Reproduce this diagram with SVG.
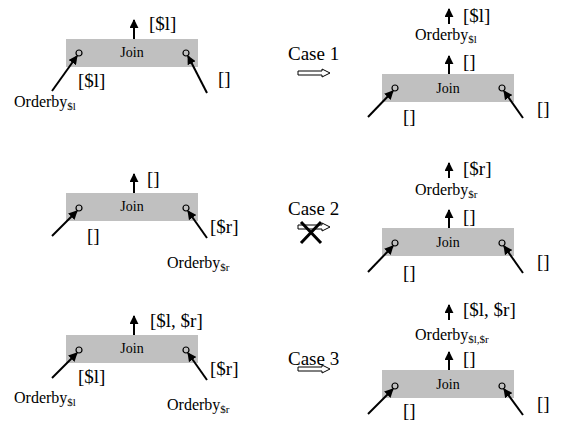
<svg xmlns="http://www.w3.org/2000/svg" width="561" height="423" viewBox="0 0 561 423">
<defs>
<style>
text{font-family:'Liberation Serif','Times New Roman',serif;fill:#000}
.lab{font-size:19px}
.case{font-size:19px}
.ob{font-size:16px}
.sub{font-size:11px}
.join{font-size:14px;text-anchor:middle}
.xmark{stroke:#000;stroke-width:3;fill:none}
</style>
<marker id="ah" viewBox="0 0 10 10" refX="9" refY="5" markerWidth="4.5" markerHeight="4.5" orient="auto" markerUnits="strokeWidth">
<path d="M0,0 L10,5 L0,10 Z" fill="#000"/>
</marker>
<rect id="box" width="132" height="28" fill="#c0c0c0"/>
<circle id="port" r="3" fill="none" stroke="#000" stroke-width="1.2"/>
<path id="hollow" d="M0,-2 L24,-2 L24,-4 L32,0 L24,4 L24,2 L0,2 Z" fill="#fff" stroke="#000" stroke-width="1"/>
</defs>
<rect width="561" height="423" fill="#fff"/>
<g id="join1L">
<use href="#box" x="66" y="39"/>
<text class="join" x="132" y="57">Join</text>
<use href="#port" x="79" y="53"/>
<use href="#port" x="186" y="53"/>
</g>
<g id="labels1L">
<text class="lab" x="149" y="30">[$l]</text>
<text class="lab" x="78" y="87">[$l]</text>
<text class="lab" x="218" y="85">[]</text>
<text class="ob" x="14" y="107">Orderby<tspan class="sub" dy="3">$l</tspan></text>
</g>
<g id="case1">
<text class="case" x="288" y="60">Case 1</text>
<use href="#hollow" x="298" y="73"/>
</g>
<g id="join1R">
<use href="#box" x="382" y="74"/>
<text class="join" x="448" y="93">Join</text>
<use href="#port" x="395" y="88"/>
<use href="#port" x="502" y="88"/>
</g>
<g id="orderby1R">
<text class="ob" x="415" y="40">Orderby<tspan class="sub" dy="3">$l</tspan></text>
</g>
<g id="labels1R">
<text class="lab" x="463" y="22">[$l]</text>
<text class="lab" x="463" y="68">[]</text>
<text class="lab" x="403" y="123">[]</text>
<text class="lab" x="537" y="115">[]</text>
</g>
<g id="join2L">
<use href="#box" x="66" y="193"/>
<text class="join" x="132" y="211">Join</text>
<use href="#port" x="79" y="208"/>
<use href="#port" x="186" y="208"/>
</g>
<g id="labels2L">
<text class="lab" x="147" y="185">[]</text>
<text class="lab" x="87" y="242">[]</text>
<text class="lab" x="210" y="233">[$r]</text>
<text class="ob" x="167" y="268">Orderby<tspan class="sub" dy="3">$r</tspan></text>
</g>
<g id="case2">
<text class="case" x="288" y="215">Case 2</text>
<use href="#hollow" x="298" y="227"/>
<path class="xmark" d="M301,222 L321,243 M321,222 L301,243"/>
</g>
<g id="join2R">
<use href="#box" x="382" y="228"/>
<text class="join" x="448" y="247">Join</text>
<use href="#port" x="395" y="243"/>
<use href="#port" x="502" y="243"/>
</g>
<g id="orderby2R">
<text class="ob" x="415" y="195">Orderby<tspan class="sub" dy="3">$r</tspan></text>
</g>
<g id="labels2R">
<text class="lab" x="463" y="175">[$r]</text>
<text class="lab" x="463" y="223">[]</text>
<text class="lab" x="403" y="279">[]</text>
<text class="lab" x="537" y="268">[]</text>
</g>
<g id="join3L">
<use href="#box" x="66" y="335"/>
<text class="join" x="132" y="353">Join</text>
<use href="#port" x="79" y="350"/>
<use href="#port" x="186" y="350"/>
</g>
<g id="labels3L">
<text class="lab" x="150" y="327">[$l, $r]</text>
<text class="lab" x="78" y="383">[$l]</text>
<text class="lab" x="210" y="375">[$r]</text>
<text class="ob" x="14" y="403">Orderby<tspan class="sub" dy="3">$l</tspan></text>
<text class="ob" x="167" y="410">Orderby<tspan class="sub" dy="3">$r</tspan></text>
</g>
<g id="case3">
<text class="case" x="288" y="365">Case 3</text>
<use href="#hollow" x="298" y="369"/>
</g>
<g id="join3R">
<use href="#box" x="382" y="370"/>
<text class="join" x="448" y="389">Join</text>
<use href="#port" x="395" y="386"/>
<use href="#port" x="502" y="386"/>
</g>
<g id="orderby3R">
<text class="ob" x="415" y="340">Orderby<tspan class="sub" dy="3">$l,$r</tspan></text>
</g>
<g id="labels3R">
<text class="lab" x="463" y="316">[$l, $r]</text>
<text class="lab" x="463" y="365">[]</text>
<text class="lab" x="403" y="417">[]</text>
<text class="lab" x="537" y="410">[]</text>
</g>
<g id="connectors" stroke="#000" stroke-width="2" fill="none" marker-end="url(#ah)">
<line x1="134" y1="39" x2="134" y2="20"/>
<line x1="52" y1="91" x2="77" y2="56"/>
<line x1="207" y1="93" x2="188" y2="56"/>
<line x1="449" y1="24" x2="449" y2="9"/>
<line x1="449" y1="74" x2="449" y2="56"/>
<line x1="368" y1="117" x2="393" y2="91"/>
<line x1="523" y1="118" x2="504" y2="91"/>
<line x1="134" y1="193" x2="134" y2="174"/>
<line x1="52" y1="236" x2="77" y2="211"/>
<line x1="207" y1="238" x2="188" y2="211"/>
<line x1="449" y1="178" x2="449" y2="163"/>
<line x1="449" y1="228" x2="449" y2="210"/>
<line x1="368" y1="272" x2="393" y2="246"/>
<line x1="523" y1="273" x2="504" y2="246"/>
<line x1="134" y1="335" x2="134" y2="316"/>
<line x1="52" y1="378" x2="77" y2="353"/>
<line x1="207" y1="380" x2="188" y2="353"/>
<line x1="449" y1="320" x2="449" y2="305"/>
<line x1="449" y1="370" x2="449" y2="352"/>
<line x1="368" y1="414" x2="393" y2="389"/>
<line x1="523" y1="415" x2="504" y2="389"/>
</g>
</svg>
